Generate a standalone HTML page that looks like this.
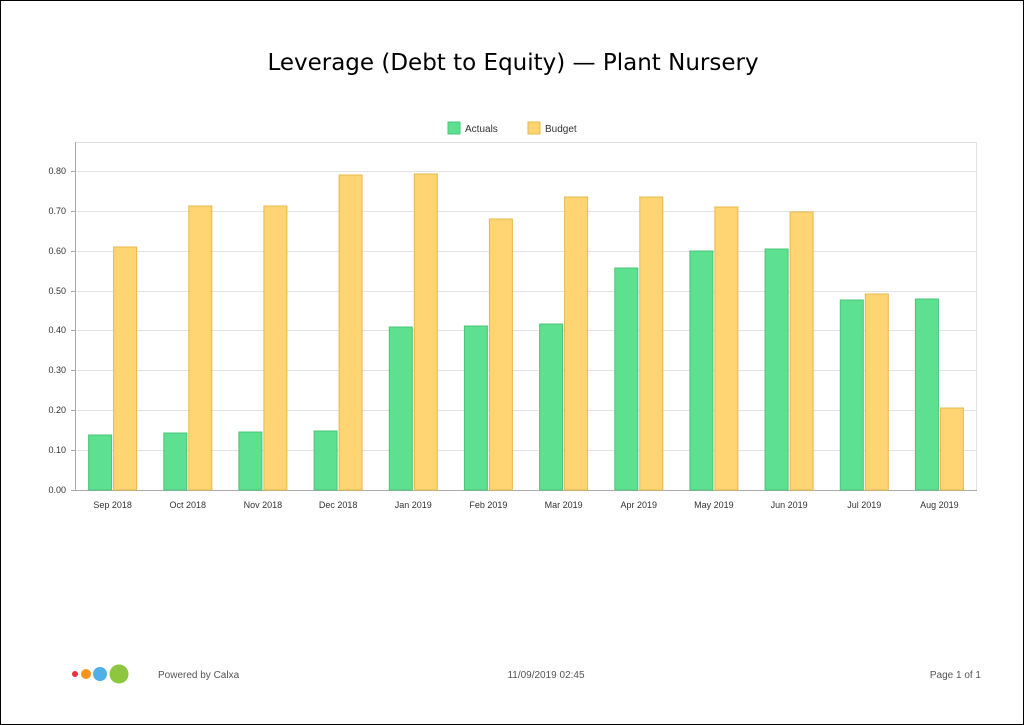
<!DOCTYPE html>
<html><head><meta charset="utf-8"><style>
html,body{margin:0;padding:0;background:#fff;}
svg{display:block;font-family:"Liberation Sans","DejaVu Sans",sans-serif;}
</style></head><body>
<svg width="1024" height="725" viewBox="0 0 1024 725" xmlns="http://www.w3.org/2000/svg">
<rect x="0.5" y="0.5" width="1023" height="724" fill="#fff" stroke="#000" stroke-width="1"/>
<text x="513" y="70" text-anchor="middle" font-size="23" fill="#000" font-family="DejaVu Sans, sans-serif">Leverage (Debt to Equity) — Plant Nursery</text>
<rect x="448" y="122" width="12" height="12" fill="#5de08f" stroke="#4cc47a"/>
<text x="465" y="132" font-size="10" fill="#333">Actuals</text>
<rect x="528" y="122" width="12" height="12" fill="#ffd472" stroke="#e8b84c"/>
<text x="545" y="132" font-size="10" fill="#333">Budget</text>
<g stroke="#e3e3e3" stroke-width="1">
<line x1="75" y1="142.5" x2="977" y2="142.5"/>
<line x1="976.5" y1="142" x2="976.5" y2="490"/>
<line x1="75" y1="171.5" x2="977" y2="171.5"/>
<line x1="75" y1="211.5" x2="977" y2="211.5"/>
<line x1="75" y1="251.5" x2="977" y2="251.5"/>
<line x1="75" y1="291.5" x2="977" y2="291.5"/>
<line x1="75" y1="330.5" x2="977" y2="330.5"/>
<line x1="75" y1="370.5" x2="977" y2="370.5"/>
<line x1="75" y1="410.5" x2="977" y2="410.5"/>
<line x1="75" y1="450.5" x2="977" y2="450.5"/>
</g>
<g stroke="#aaa" stroke-width="1">
<line x1="75.5" y1="142" x2="75.5" y2="491"/>
<line x1="71" y1="490.5" x2="977" y2="490.5"/>
</g>
<g stroke="#aaa">
<line x1="71" y1="171.5" x2="75" y2="171.5"/><line x1="71" y1="211.5" x2="75" y2="211.5"/>
<line x1="71" y1="251.5" x2="75" y2="251.5"/><line x1="71" y1="291.5" x2="75" y2="291.5"/>
<line x1="71" y1="330.5" x2="75" y2="330.5"/><line x1="71" y1="370.5" x2="75" y2="370.5"/>
<line x1="71" y1="410.5" x2="75" y2="410.5"/><line x1="71" y1="450.5" x2="75" y2="450.5"/>
</g>
<g font-size="9" fill="#333" text-anchor="end">
<text x="66" y="174">0.80</text><text x="66" y="214">0.70</text><text x="66" y="254">0.60</text>
<text x="66" y="294">0.50</text><text x="66" y="333">0.40</text><text x="66" y="373">0.30</text>
<text x="66" y="413">0.20</text><text x="66" y="453">0.10</text><text x="66" y="493">0.00</text>
</g>
<g fill="#5de08f" stroke="#4cc47a" stroke-width="1">
<rect x="88.6" y="435" width="23" height="55"/>
<rect x="163.8" y="433" width="23" height="57"/>
<rect x="238.9" y="432" width="23" height="58"/>
<rect x="314.1" y="431" width="23" height="59"/>
<rect x="389.3" y="327" width="23" height="163"/>
<rect x="464.4" y="326" width="23" height="164"/>
<rect x="539.6" y="324" width="23" height="166"/>
<rect x="614.8" y="268" width="23" height="222"/>
<rect x="689.9" y="251" width="23" height="239"/>
<rect x="765.1" y="249" width="23" height="241"/>
<rect x="840.3" y="300" width="23" height="190"/>
<rect x="915.4" y="299" width="23" height="191"/>
</g>
<g fill="#ffd472" stroke="#e8b84c" stroke-width="1">
<rect x="113.6" y="247" width="23" height="243"/>
<rect x="188.8" y="206" width="23" height="284"/>
<rect x="263.9" y="206" width="23" height="284"/>
<rect x="339.1" y="175" width="23" height="315"/>
<rect x="414.3" y="174" width="23" height="316"/>
<rect x="489.4" y="219" width="23" height="271"/>
<rect x="564.6" y="197" width="23" height="293"/>
<rect x="639.8" y="197" width="23" height="293"/>
<rect x="714.9" y="207" width="23" height="283"/>
<rect x="790.1" y="212" width="23" height="278"/>
<rect x="865.3" y="294" width="23" height="196"/>
<rect x="940.4" y="408" width="23" height="82"/>
</g>
<g font-size="9" fill="#333" text-anchor="middle">
<text x="112.6" y="508">Sep 2018</text><text x="187.8" y="508">Oct 2018</text>
<text x="262.9" y="508">Nov 2018</text><text x="338.1" y="508">Dec 2018</text>
<text x="413.3" y="508">Jan 2019</text><text x="488.4" y="508">Feb 2019</text>
<text x="563.6" y="508">Mar 2019</text><text x="638.8" y="508">Apr 2019</text>
<text x="713.9" y="508">May 2019</text><text x="789.1" y="508">Jun 2019</text>
<text x="864.3" y="508">Jul 2019</text><text x="939.4" y="508">Aug 2019</text>
</g>
<circle cx="75" cy="674" r="3" fill="#e8323c"/>
<circle cx="86" cy="674" r="5" fill="#f7941d"/>
<circle cx="100" cy="674" r="7" fill="#4fb0e8"/>
<circle cx="119" cy="674" r="9.5" fill="#8dc63f"/>
<text x="158" y="678" font-size="10" fill="#555">Powered by Calxa</text>
<text x="546" y="678" font-size="10" fill="#555" text-anchor="middle">11/09/2019 02:45</text>
<text x="981" y="678" font-size="10" fill="#555" text-anchor="end">Page 1 of 1</text>
</svg>
</body></html>
